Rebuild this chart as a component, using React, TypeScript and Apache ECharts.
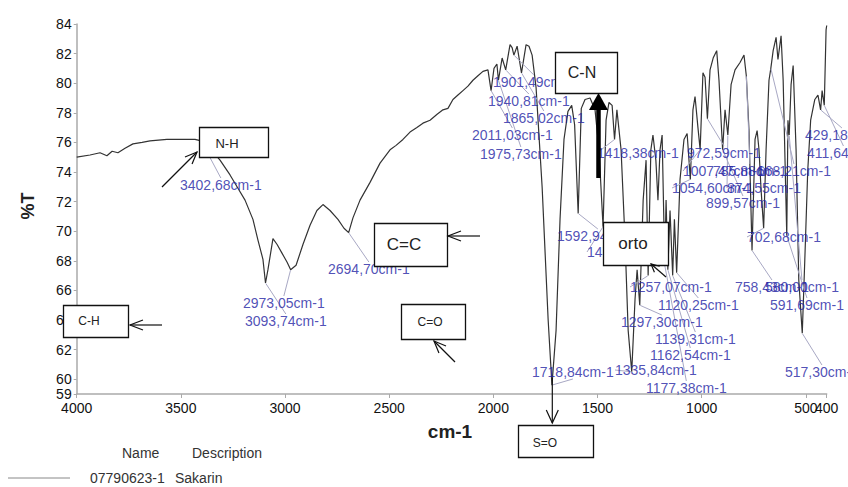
import React, { useEffect, useRef } from 'react';
import * as echarts from 'echarts';

// ---- Spectrum data (wavenumber cm-1, %T) ----
const wavenumbers = [
  4000, 3936, 3888, 3855, 3830, 3802, 3768, 3730, 3686, 3648, 3567, 3480, 3432, 3402.68,
  3360, 3312, 3264, 3226, 3192, 3154, 3130, 3106, 3093.74, 3082, 3058, 3038, 3014, 2990,
  2973.05, 2947, 2914, 2880, 2847, 2818, 2784, 2746, 2717, 2694.7, 2674, 2640, 2592, 2544,
  2496, 2467, 2434, 2400, 2367, 2338, 2304, 2270, 2242, 2218, 2194, 2170, 2146, 2122, 2098,
  2074, 2050, 2026, 2011.03, 1997, 1983, 1975.73, 1958, 1940.81, 1920, 1910, 1901.49, 1886,
  1865.02, 1843, 1829, 1814, 1795, 1766, 1737, 1718.84, 1699, 1680, 1661, 1642, 1624, 1610,
  1592.94, 1578, 1560, 1536, 1512, 1493, 1473.46, 1459, 1445, 1430, 1418.38, 1407, 1387, 1368,
  1353, 1335.84, 1320, 1310, 1297.3, 1281, 1267, 1257.07, 1244, 1234, 1220, 1210, 1200, 1190,
  1177.38, 1171, 1162.54, 1152, 1139.31, 1131, 1120.25, 1104, 1085, 1070, 1054.6, 1042, 1032,
  1018, 1007.47, 994, 984, 972.59, 960, 945, 928, 917, 899.57, 888, 874.55, 859, 840, 816, 797,
  785.88, 773, 758.43, 744, 734, 725, 715, 702.68, 691, 677, 668.21, 657, 643, 634, 619, 609,
  591.69, 586, 580.0, 571, 561, 547, 534, 517.3, 505, 491, 477, 457, 442, 429.18, 422, 411.64,
  403, 400,
];
const transmittance = [
  75.0, 75.15, 75.3, 75.1, 75.4, 75.3, 75.6, 75.9, 76.0, 76.1, 76.2, 76.2, 76.2, 76.1,
  75.6, 74.8, 73.8, 72.9, 72.1, 70.8, 69.4, 68.1, 66.5, 67.4, 69.5, 69.1, 68.5, 67.9,
  67.4, 67.7, 69.1, 70.4, 71.4, 71.8, 71.4, 70.8, 70.2, 69.9, 70.9, 72.1, 73.3, 74.6,
  75.5, 75.8, 76.2, 76.7, 77.0, 77.3, 77.5, 77.9, 78.2, 78.3, 78.9, 79.2, 79.5, 79.8, 80.2,
  80.5, 80.8, 80.9, 79.5, 81.0, 81.3, 80.2, 81.7, 80.9, 82.6, 82.4, 81.9, 82.5,
  80.7, 82.6, 82.5, 81.9, 79.7, 73.0, 64.0, 59.6, 63.3, 70.8, 76.2, 78.1, 78.5, 77.2,
  71.2, 78.3, 78.9, 79.0, 78.2, 75.5, 70.3, 77.5, 78.7, 78.5, 76.2, 78.2, 75.5, 69.4,
  63.3, 60.5, 65.4, 67.4, 65.0, 72.1, 74.8, 67.0, 75.5, 76.5, 74.8, 72.1, 75.5, 76.5,
  67.7, 72.1, 67.4, 71.4, 67.0, 70.8, 67.2, 73.5, 76.2, 76.6, 73.5, 78.2, 79.1,
  77.0, 75.5, 80.7, 80.4, 77.6, 80.9, 81.7, 82.2, 80.2, 75.5, 78.2, 76.5, 79.9, 80.9, 81.4, 81.9,
  80.5, 76.8, 68.7, 76.2, 76.8, 75.5, 72.8, 70.2, 75.5, 80.2, 81.0, 82.2, 83.1, 81.6, 83.2, 80.2,
  69.7, 77.5, 76.5, 79.9, 81.2, 75.5, 66.7, 63.1, 68.1, 74.1, 77.5, 78.9, 79.2, 78.2, 79.5, 78.5,
  83.6, 83.9,
];

// ---- Peak annotations ----
const peakWavenumbers = [
  3402.68, 3093.74, 2973.05, 2694.7, 2011.03, 1975.73, 1940.81, 1901.49, 1865.02, 1718.84,
  1592.94, 1473.46, 1418.38, 1335.84, 1297.3, 1257.07, 1177.38, 1162.54, 1139.31, 1120.25,
  1054.6, 1007.47, 785.88, 668.21, 972.59, 899.57, 874.55, 758.43, 702.68, 580.0, 591.69, 517.3,
  429.18, 411.64,
];
const peakLabels = [
  '3402,68cm-1', '3093,74cm-1', '2973,05cm-1', '2694,70cm-1', '2011,03cm-1', '1975,73cm-1',
  '1940,81cm-1', '1901,49cm-1', '1865,02cm-1', '1718,84cm-1', '1592,94cm-1', '1473,46cm-1',
  '1418,38cm-1', '1335,84cm-1', '1297,30cm-1', '1257,07cm-1', '1177,38cm-1', '1162,54cm-1',
  '1139,31cm-1', '1120,25cm-1', '1054,60cm-1', '1007,47cm-1', '785,88cm-1', '668,21cm-1',
  '972,59cm-1', '899,57cm-1', '874,55cm-1', '758,43cm-1', '702,68cm-1', '580,00cm-1',
  '591,69cm-1', '517,30cm-1', '429,18cm-1', '411,64cm-1',
];

const xTickValues = [4000, 3500, 3000, 2500, 2000, 1500, 1000, 500];
const xEndTickValues = [400];
const yTickValues = [59, 60, 62, 64, 66, 68, 70, 72, 74, 76, 78, 80, 82, 84];

// ---- Layout (pixel positions of peak label text: left x, middle y) ----
const peakLabelAnchor: [number, number][] = [
  [180, 185], [245, 321], [243, 303], [328, 269], [472, 135], [480, 154],
  [488, 101], [493, 82], [503, 118], [532, 372], [557, 236], [587, 252],
  [597, 153], [615, 370], [621, 322], [630, 287], [646, 388], [650, 355],
  [655, 339], [658, 305], [672, 188], [683, 171], [713, 171], [757, 171],
  [687, 153], [706, 203], [727, 188], [735, 287], [747, 237], [765, 287],
  [770, 305], [785, 372], [805, 135], [807, 153],
];

const sans = "'Liberation Sans', Arial, sans-serif";

function arrowHead(tx: number, ty: number, fromX: number, fromY: number, len: number, spread: number) {
  const dx = fromX - tx;
  const dy = fromY - ty;
  const d = Math.sqrt(dx * dx + dy * dy);
  const ux = dx / d;
  const uy = dy / d;
  const bx = tx + ux * len;
  const by = ty + uy * len;
  return [
    [bx - uy * spread, by + ux * spread],
    [tx, ty],
    [bx + uy * spread, by - ux * spread],
  ];
}

export default function App() {
  const ref = useRef<HTMLDivElement>(null);

  useEffect(() => {
    const chart = echarts.init(ref.current!, null, { renderer: 'svg' });

    const lineData = wavenumbers.map((w, i) => [w, transmittance[i]]);
    const peakData = peakWavenumbers.map((w, i) => {
      let best = 0;
      for (let k = 1; k < wavenumbers.length; k++) {
        if (Math.abs(wavenumbers[k] - w) < Math.abs(wavenumbers[best] - w)) best = k;
      }
      return { value: [w, transmittance[best]], name: peakLabels[i] };
    });

    const boxes = [
      { x: 199, y: 127, w: 69, h: 30, text: 'N-H', tx: 227, ty: 143, fs: 13 },
      { x: 63, y: 305, w: 65, h: 32, text: 'C-H', tx: 89, ty: 321, fs: 12 },
      { x: 374, y: 223, w: 73, h: 43, text: 'C=C', tx: 404, ty: 244, fs: 17 },
      { x: 401, y: 304, w: 64, h: 35, text: 'C=O', tx: 430, ty: 322, fs: 12 },
      { x: 555, y: 52, w: 62, h: 41, text: 'C-N', tx: 582, ty: 72, fs: 16 },
      { x: 603, y: 222, w: 65, h: 43, text: 'orto', tx: 633, ty: 243, fs: 17 },
      { x: 518, y: 425, w: 75, h: 32, text: 'S=O', tx: 545, ty: 443, fs: 12 },
    ];

    const graphics: any[] = [];
    boxes.forEach((b) => {
      graphics.push({
        type: 'rect', z: 100,
        shape: { x: b.x + 0.5, y: b.y + 0.5, width: b.w, height: b.h },
        style: { fill: '#fff', stroke: '#111', lineWidth: 1.3 },
      });
      graphics.push({
        type: 'text', z: 101, x: b.tx, y: b.ty,
        style: { text: b.text, fill: '#222', font: `${b.fs}px ${sans}`, textAlign: 'center', textVerticalAlign: 'middle' },
      });
    });

    const arrows: [number, number, number, number, number, number][] = [
      // fromX, fromY, tipX, tipY, headLen, spread
      [162, 187, 197, 152, 12, 5],
      [162, 325, 130, 325, 13, 5],
      [480, 236, 448, 236, 13, 5],
      [455, 362, 434, 341, 12, 5],
      [552.3, 378, 552.3, 423, 13, 6],
      [666, 277, 651, 264, 8, 4],
    ];
    arrows.forEach((a) => {
      graphics.push({
        type: 'line', z: 100,
        shape: { x1: a[0], y1: a[1], x2: a[2], y2: a[3] },
        style: { stroke: '#111', lineWidth: 1.2 },
      });
      graphics.push({
        type: 'polyline', z: 100,
        shape: { points: arrowHead(a[2], a[3], a[0], a[1], a[4], a[5]) },
        style: { stroke: '#111', lineWidth: 1.2, fill: 'none' },
      });
    });
    // thick C-N arrow
    graphics.push({
      type: 'line', z: 100,
      shape: { x1: 598.5, y1: 178, x2: 598.5, y2: 104 },
      style: { stroke: '#000', lineWidth: 4.5 },
    });
    graphics.push({
      type: 'polygon', z: 100,
      shape: { points: [[598.5, 93], [589, 110], [608, 110]] },
      style: { fill: '#000' },
    });

    // axis titles and legend
    graphics.push({
      type: 'text', z: 50, x: 28, y: 206, rotation: Math.PI / 2,
      style: { text: '%T', fill: '#222', font: `bold 18px ${sans}`, textAlign: 'center', textVerticalAlign: 'middle' },
    });
    graphics.push({
      type: 'text', z: 50, x: 450, y: 431,
      style: { text: 'cm-1', fill: '#222', font: `bold 19px ${sans}`, textAlign: 'center', textVerticalAlign: 'middle' },
    });
    const legendFont = `14px ${sans}`;
    graphics.push({
      type: 'text', z: 50, x: 122, y: 453,
      style: { text: 'Name', fill: '#333', font: legendFont, textAlign: 'left', textVerticalAlign: 'middle' },
    });
    graphics.push({
      type: 'text', z: 50, x: 192, y: 453,
      style: { text: 'Description', fill: '#333', font: legendFont, textAlign: 'left', textVerticalAlign: 'middle' },
    });
    graphics.push({
      type: 'line', z: 50,
      shape: { x1: 8, y1: 478, x2: 70, y2: 478 },
      style: { stroke: '#888', lineWidth: 1 },
    });
    graphics.push({
      type: 'text', z: 50, x: 90, y: 478,
      style: { text: '07790623-1', fill: '#333', font: legendFont, textAlign: 'left', textVerticalAlign: 'middle' },
    });
    graphics.push({
      type: 'text', z: 50, x: 175, y: 478,
      style: { text: 'Sakarin', fill: '#333', font: legendFont, textAlign: 'left', textVerticalAlign: 'middle' },
    });

    const xLabelBase = {
      formatter: (v: number) => String(v),
      color: '#111',
      fontSize: 14,
      fontFamily: sans,
      margin: 7,
      hideOverlap: false,
      showMinLabel: true,
      showMaxLabel: true,
    };

    chart.setOption({
      animation: false,
      backgroundColor: '#fff',
      grid: { left: 76.7, right: 21.3, top: 24, bottom: 93, outerBoundsMode: 'none' },
      xAxis: [
        {
          type: 'value',
          inverse: true,
          min: 400,
          max: 4000,
          splitLine: { show: false },
          axisLine: { show: true, lineStyle: { color: '#aaa', width: 1.5 } },
          axisTick: { show: true, length: 4, lineStyle: { color: '#aaa' }, customValues: xTickValues },
          axisLabel: { ...xLabelBase, customValues: xTickValues },
        },
        {
          type: 'value',
          inverse: true,
          position: 'bottom',
          min: 400,
          max: 4000,
          splitLine: { show: false },
          axisLine: { show: false },
          axisTick: { show: true, length: 4, lineStyle: { color: '#aaa' }, customValues: xEndTickValues },
          axisLabel: { ...xLabelBase, customValues: xEndTickValues },
        },
      ],
      yAxis: {
        type: 'value',
        min: 59,
        max: 84,
        splitLine: { show: false },
        axisLine: { show: true, lineStyle: { color: '#aaa', width: 1.5 } },
        axisTick: { show: true, length: 3, lineStyle: { color: '#aaa' }, customValues: yTickValues },
        axisLabel: {
          customValues: yTickValues,
          formatter: (v: number) => String(v),
          color: '#111',
          fontSize: 14,
          fontFamily: sans,
          margin: 5,
          hideOverlap: false,
          showMinLabel: true,
          showMaxLabel: true,
        },
      },
      series: [
        {
          type: 'line',
          data: lineData,
          showSymbol: false,
          symbol: 'none',
          silent: true,
          lineStyle: { color: '#333', width: 1.2 },
          z: 3,
        },
        {
          type: 'scatter',
          data: peakData,
          symbolSize: 1,
          itemStyle: { color: 'rgba(0,0,0,0)' },
          silent: true,
          z: 4,
          label: {
            show: true,
            formatter: '{b}',
            color: '#2323a3',
            fontSize: 14,
            fontFamily: sans,
            position: 'right',
          },
          labelLine: { show: true, lineStyle: { color: '#a8a8c4', width: 1 } },
          labelLayout: (params: any) => {
            const p = peakLabelAnchor[params.dataIndex];
            return { x: p[0], y: p[1], align: 'left', verticalAlign: 'middle', hideOverlap: false };
          },
        },
      ],
      graphic: graphics,
    });

    return () => chart.dispose();
  }, []);

  return (
    <div
      ref={ref}
      style={{ position: 'absolute', left: 0, top: 0, width: 848, height: 487, background: '#fff' }}
    />
  );
}
